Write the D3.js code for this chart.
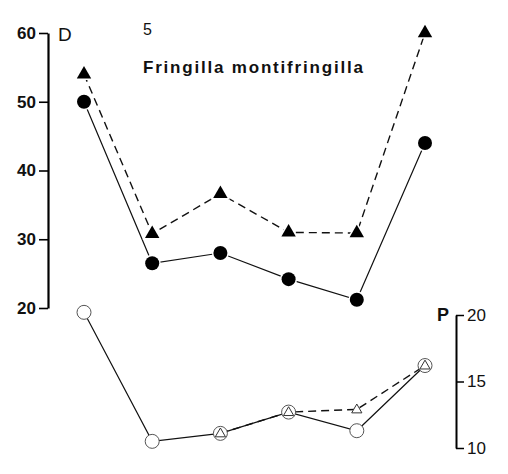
<!DOCTYPE html>
<html>
<head>
<meta charset="utf-8">
<script src="https://cdn.jsdelivr.net/npm/d3@7"></script>
<style>
  body { margin: 0; background: #fff; }
  svg { font-family: "Liberation Sans", Arial, sans-serif; }
</style>
</head>
<body>
<div id="chart"></div>
<script>
const width = 508;
const height = 474;

// seasons / sample points along x
const points = [1, 2, 3, 4, 5, 6];
// D (upper panel)
const dCircles = [50, 26.5, 28, 24.2, 21.2, 44];
const dTriangles = [54, 30.8, 36.6, 31, 30.9, 60];
// P (lower panel)
const pCircles = [20.2, 10.5, 11.1, 12.7, 11.3, 16.2];
const pTriangles = [null, null, 11.1, 12.7, 12.9, 16.2];

const dTicks = [20, 30, 40, 50, 60];
const pTicks = [10, 15, 20];

const svg = d3.select("#chart")
  .append("svg")
  .attr("width", width)
  .attr("height", height);

svg.append("rect")
  .attr("width", width)
  .attr("height", height)
  .attr("fill", "white");

const x = d3.scalePoint()
  .domain(points)
  .range([84, 425]);

const yD = d3.scaleLinear()
  .domain([20, 60])
  .range([308, 33]);

const yP = d3.scaleLinear()
  .domain([10, 20])
  .range([448, 315]);

// left axis D
const axisD = svg.append("g")
  .attr("transform", "translate(48,0)")
  .call(d3.axisLeft(yD).tickValues(dTicks).tickSize(9).tickSizeOuter(0).tickPadding(3));
axisD.select(".domain").attr("stroke-width", 2.2);
axisD.selectAll(".tick line").attr("stroke-width", 1.6);
axisD.selectAll(".tick text")
  .attr("font-size", 17)
  .attr("font-weight", "bold")
  .attr("fill", "#111");

svg.append("text")
  .attr("x", 58)
  .attr("y", 41)
  .attr("font-size", 19)
  .attr("fill", "#111")
  .text("D");

// right axis P
const axisP = svg.append("g")
  .attr("transform", "translate(456,0)")
  .call(d3.axisRight(yP).tickValues(pTicks).tickSize(8).tickSizeOuter(0).tickPadding(3));
axisP.select(".domain").attr("stroke-width", 2);
axisP.selectAll(".tick line").attr("stroke-width", 1.5);
axisP.selectAll(".tick text")
  .attr("font-size", 17)
  .attr("fill", "#111");

svg.append("text")
  .attr("x", 437)
  .attr("y", 321)
  .attr("font-size", 18)
  .attr("font-weight", "bold")
  .attr("fill", "#111")
  .text("P");

// titles
svg.append("text")
  .attr("x", 143)
  .attr("y", 35)
  .attr("font-size", 16)
  .attr("fill", "#111")
  .text("5");

svg.append("text")
  .attr("x", 143)
  .attr("y", 73)
  .attr("font-size", 17)
  .attr("font-weight", "bold")
  .attr("letter-spacing", 1.8)
  .attr("fill", "#111")
  .text("Fringilla montifringilla");

// lines
function drawLine(values, y, dashed, width) {
  const line = d3.line()
    .defined(d => d != null)
    .x((d, i) => x(points[i]))
    .y(d => y(d));
  svg.append("path")
    .datum(values)
    .attr("d", line)
    .attr("fill", "none")
    .attr("stroke", "#111")
    .attr("stroke-width", width)
    .attr("stroke-dasharray", dashed ? "8,5" : null);
}

drawLine(dTriangles, yD, true, 1.4);
drawLine(dCircles, yD, false, 1.2);
drawLine(pTriangles, yP, true, 1.4);
drawLine(pCircles, yP, false, 1.2);

const tri = d3.symbol().type(d3.symbolTriangle);

// D markers
svg.selectAll(".dtri")
  .data(dTriangles)
  .enter().append("path")
  .attr("class", "dtri")
  .attr("transform", (d, i) => `translate(${x(points[i])},${yD(d)})`)
  .attr("d", tri.size(90)())
  .attr("fill", "#000")
  .attr("stroke", "white")
  .attr("stroke-width", 3)
  .attr("paint-order", "stroke");

svg.selectAll(".dcirc")
  .data(dCircles)
  .enter().append("circle")
  .attr("class", "dcirc")
  .attr("cx", (d, i) => x(points[i]))
  .attr("cy", d => yD(d))
  .attr("r", 7)
  .attr("fill", "#000")
  .attr("stroke", "white")
  .attr("stroke-width", 3)
  .attr("paint-order", "stroke");

// P markers
svg.selectAll(".pcirc")
  .data(pCircles)
  .enter().append("circle")
  .attr("class", "pcirc")
  .attr("cx", (d, i) => x(points[i]))
  .attr("cy", d => yP(d))
  .attr("r", 7)
  .attr("fill", "white")
  .attr("stroke", "#555")
  .attr("stroke-width", 1);

svg.selectAll(".ptri")
  .data(pTriangles.map((d, i) => ({ v: d, i: i })).filter(d => d.v != null))
  .enter().append("path")
  .attr("class", "ptri")
  .attr("transform", d => `translate(${x(points[d.i])},${yP(d.v) + 0.5})`)
  .attr("d", tri.size(45)())
  .attr("fill", "white")
  .attr("stroke", "#333")
  .attr("stroke-width", 1);
</script>
</body>
</html>
